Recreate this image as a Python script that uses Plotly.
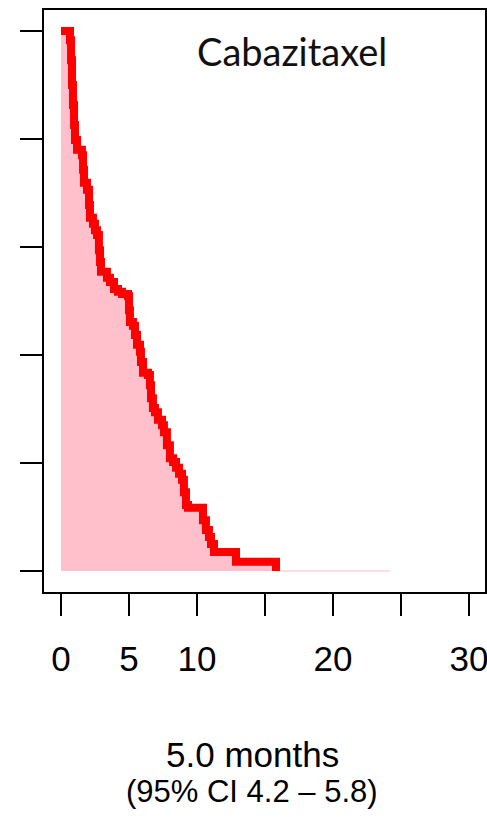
import plotly.graph_objects as go

# Kaplan-Meier step curve (months, survival proportion)
times = [0, 0.66, 0.74, 0.81, 0.88, 0.96, 1.03, 1.18, 1.54, 1.62, 1.69, 1.91, 2.06, 2.13,
         2.35, 2.50, 2.65, 2.79, 2.87, 2.94, 3.38, 3.60, 3.90, 4.19, 4.49, 4.93, 5.00,
         5.07, 5.29, 5.44, 5.59, 5.81, 5.88, 6.03, 6.40, 6.54, 6.62, 6.76, 6.91, 7.13,
         7.43, 7.57, 7.79, 8.01, 8.24, 8.46, 8.68, 8.90, 9.04, 9.19, 9.34, 10.44, 10.66,
         10.88, 11.03, 11.25, 12.87, 15.81]
surv = [1.0, 0.983, 0.946, 0.900, 0.863, 0.826, 0.798, 0.780, 0.770, 0.743, 0.719, 0.706,
        0.678, 0.654, 0.643, 0.631, 0.622, 0.594, 0.572, 0.554, 0.543, 0.535, 0.522, 0.517,
        0.513, 0.509, 0.483, 0.461, 0.454, 0.437, 0.419, 0.406, 0.387, 0.367, 0.363, 0.344,
        0.320, 0.302, 0.294, 0.280, 0.270, 0.257, 0.233, 0.209, 0.202, 0.191, 0.180, 0.169,
        0.146, 0.122, 0.117, 0.094, 0.076, 0.063, 0.050, 0.035, 0.017, 0.0]
followup_end = 24.2

x_tickvals = [0, 5, 10, 15, 20, 25, 30]
x_ticktext = ["0", "5", "10", "", "20", "", "30"]
y_tickvals = [0, 0.2, 0.4, 0.6, 0.8, 1.0]

arm_label = "Cabazitaxel"
median_text = "5.0 months"
ci_text = "(95% CI 4.2 \u2013 5.8)"

fig = go.Figure()
fig.add_trace(go.Scatter(
    x=times + [followup_end], y=surv + [0.0],
    mode="lines", line=dict(shape="hv", width=1, color="#FFC0CB"),
    fill="tozeroy", fillcolor="#FFC0CB", hoverinfo="skip", showlegend=False))
fig.add_trace(go.Scatter(
    x=times, y=surv, mode="lines",
    line=dict(shape="hv", width=8, color="#FF0000"), showlegend=False))

axis_common = dict(showline=True, linecolor="black", linewidth=2, mirror=True,
                   ticks="outside", ticklen=22, tickwidth=2, tickcolor="black",
                   showgrid=False, zeroline=False)
fig.update_xaxes(range=[-1.25, 31.18], tickvals=x_tickvals, ticktext=x_ticktext,
                 tickfont=dict(family="Liberation Sans, Arial", size=35, color="black"),
                 ticklabelstandoff=13, ticklabeloverflow="allow", automargin=False,
                 **axis_common)
fig.update_yaxes(range=[-0.0389, 1.0389], tickvals=y_tickvals, showticklabels=False,
                 automargin=False, **axis_common)

fig.add_annotation(text=arm_label, xref="paper", yref="paper", x=0.562, y=0.929,
                   showarrow=False, xanchor="center", yanchor="middle",
                   font=dict(family="Lato, Open Sans", size=38, color="#111111"))
fig.add_annotation(text=median_text, xref="paper", yref="paper", x=0.4717, y=-0.280,
                   showarrow=False, xanchor="center", yanchor="middle",
                   font=dict(family="Liberation Sans, Arial", size=35, color="black"))
fig.add_annotation(text=ci_text, xref="paper", yref="paper", x=0.4717, y=-0.343,
                   showarrow=False, xanchor="center", yanchor="middle",
                   font=dict(family="Liberation Sans, Arial", size=31, color="black"))

fig.update_layout(width=487, height=822, margin=dict(l=44, r=2, t=10, b=230),
                  paper_bgcolor="white", plot_bgcolor="white")
fig.write_html("out.html")
